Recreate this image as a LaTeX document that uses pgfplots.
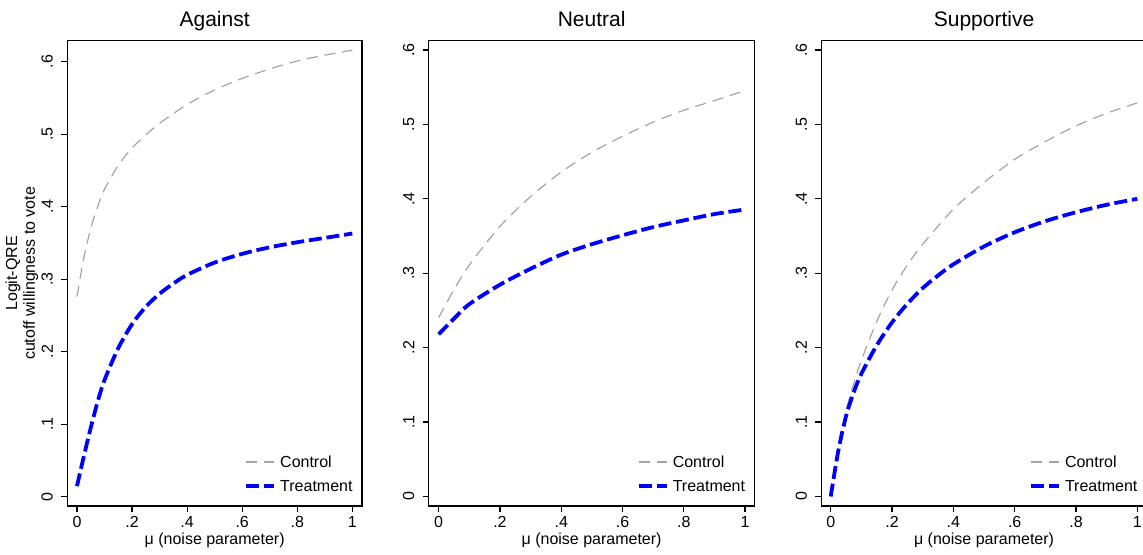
\documentclass[border=0pt]{standalone}
\usepackage{fontspec}
\setmainfont{Liberation Sans}
\usepackage{pgfplots}
\pgfplotsset{compat=1.18}
\definecolor{ctrlgray}{RGB}{165,165,165}
\pgfplotsset{
  every axis title shift=0pt,
  panel/.style={
    scale only axis,
    anchor=south west,
    height=232.65pt,
    ymin=-0.0128,
    axis line style={line width=0.6pt, black},
    tick style={line width=0.6pt, black},
    tick align=outside,
    major tick length=3pt,
    xtick pos=bottom, ytick pos=left,
    xtick={0,0.2,0.4,0.6,0.8,1},
    xticklabels={0,.2,.4,.6,.8,1},
    ytick={0,0.1,0.2,0.3,0.4,0.5,0.6},
    yticklabels={0,.1,.2,.3,.4,.5,.6},
    xticklabel style={anchor=north, inner sep=0pt, font=\fontsize{8}{9.6}\selectfont},
    yticklabel style={rotate=90, anchor=south, inner sep=0pt, font=\fontsize{8}{9.6}\selectfont},
    xticklabel shift=2pt,
    yticklabel shift=4pt,
    /pgf/number format/assume math mode=true,
    title style={at={(axis description cs:0.5,1)}, anchor=base, inner sep=0pt, yshift=7pt, font=\fontsize{10.5}{12}\selectfont},
    xlabel={μ (noise parameter)},
    xlabel style={at={(axis description cs:0.5,-0.0823)}, anchor=base, inner sep=0pt, font=\fontsize{8}{9.6}\selectfont},
    legend cell align=left,
    legend image code/.code={\draw[#1] (0pt,0pt) -- (14pt,0pt);},
    legend style={draw=none, fill=none, anchor=south west, inner xsep=0pt, inner ysep=0pt,
      font=\fontsize{8}{9.6}\selectfont,
      nodes={inner sep=0pt, text depth=0pt, text height=6pt},
      row sep=6pt, column sep=2pt},
  },
  ctrl/.style={color=ctrlgray, line width=0.6pt, dash pattern=on 5.5pt off 3.5pt, smooth},
  treat/.style={color=blue, line width=1.9pt, dash pattern=on 6.5pt off 2.4pt, smooth},
}
\begin{document}
\begin{tikzpicture}
\path[use as bounding box] (0,0) rectangle (571.5pt,277pt);
% ---------------- Against
\begin{axis}[panel, at={(33.65pt,24pt)}, width=147.35pt,
  xmin=-0.0352, xmax=1.0352, ymax=0.629,
  title={Against},
  ylabel={Logit-QRE\\cutoff willingness to vote},
  ylabel style={at={(axis description cs:-0.0977,0.5)}, anchor=south, inner sep=0pt, align=center, font=\fontsize{8}{8.8}\selectfont},
  legend style={at={(axis description cs:0.5996,0.0294)}}]
\addplot[ctrl] coordinates {(0,0.276) (0.025,0.330) (0.05,0.370) (0.075,0.400) (0.1,0.424) (0.15,0.457) (0.2,0.481) (0.25,0.499) (0.3,0.515) (0.4,0.541) (0.5,0.561) (0.6,0.577) (0.7,0.590) (0.8,0.601) (0.9,0.609) (1,0.616)};
\addlegendentry{Control}
\addplot[treat] coordinates {(0,0.0146) (0.025,0.056) (0.05,0.095) (0.075,0.131) (0.1,0.161) (0.15,0.205) (0.2,0.238) (0.25,0.262) (0.3,0.280) (0.35,0.294) (0.4,0.306) (0.5,0.323) (0.6,0.335) (0.7,0.344) (0.8,0.351) (0.9,0.357) (1,0.363)};
\addlegendentry{Treatment}
\end{axis}
% ---------------- Neutral
\begin{axis}[panel, at={(214.35pt,24pt)}, width=162.9pt,
  xmin=-0.0326, xmax=1.031, ymax=0.6125,
  title={Neutral},
  legend style={at={(axis description cs:0.638,0.0294)}}]
\addplot[ctrl] coordinates {(0,0.2405) (0.05,0.278) (0.1,0.311) (0.2,0.363) (0.3,0.403) (0.4,0.436) (0.5,0.4625) (0.6,0.484) (0.7,0.503) (0.8,0.519) (0.9,0.532) (1,0.5455)};
\addlegendentry{Control}
\addplot[treat] coordinates {(0,0.218) (0.05,0.239) (0.1,0.2585) (0.2,0.2846) (0.3,0.306) (0.4,0.325) (0.5,0.339) (0.6,0.351) (0.7,0.362) (0.8,0.371) (0.9,0.3795) (1,0.3857)};
\addlegendentry{Treatment}
\end{axis}
% ---------------- Supportive
\begin{axis}[panel, at={(410.65pt,24pt)}, width=162.75pt,
  xmin=-0.0307, xmax=1.031, ymax=0.6125,
  title={Supportive},
  legend style={at={(axis description cs:0.6375,0.0294)}}]
\addplot[ctrl] coordinates {(0,0.0) (0.025,0.06) (0.05,0.115) (0.075,0.152) (0.1,0.183) (0.15,0.235) (0.2,0.2775) (0.25,0.311) (0.3,0.339) (0.4,0.386) (0.5,0.422) (0.6,0.453) (0.7,0.477) (0.8,0.498) (0.9,0.515) (1,0.529)};
\addlegendentry{Control}
\addplot[treat] coordinates {(0,0.0) (0.025,0.062) (0.05,0.108) (0.075,0.140) (0.1,0.165) (0.15,0.203) (0.2,0.234) (0.25,0.259) (0.3,0.280) (0.35,0.297) (0.4,0.312) (0.5,0.336) (0.6,0.355) (0.7,0.370) (0.8,0.382) (0.9,0.392) (1,0.400)};
\addlegendentry{Treatment}
\end{axis}
\end{tikzpicture}
\end{document}
